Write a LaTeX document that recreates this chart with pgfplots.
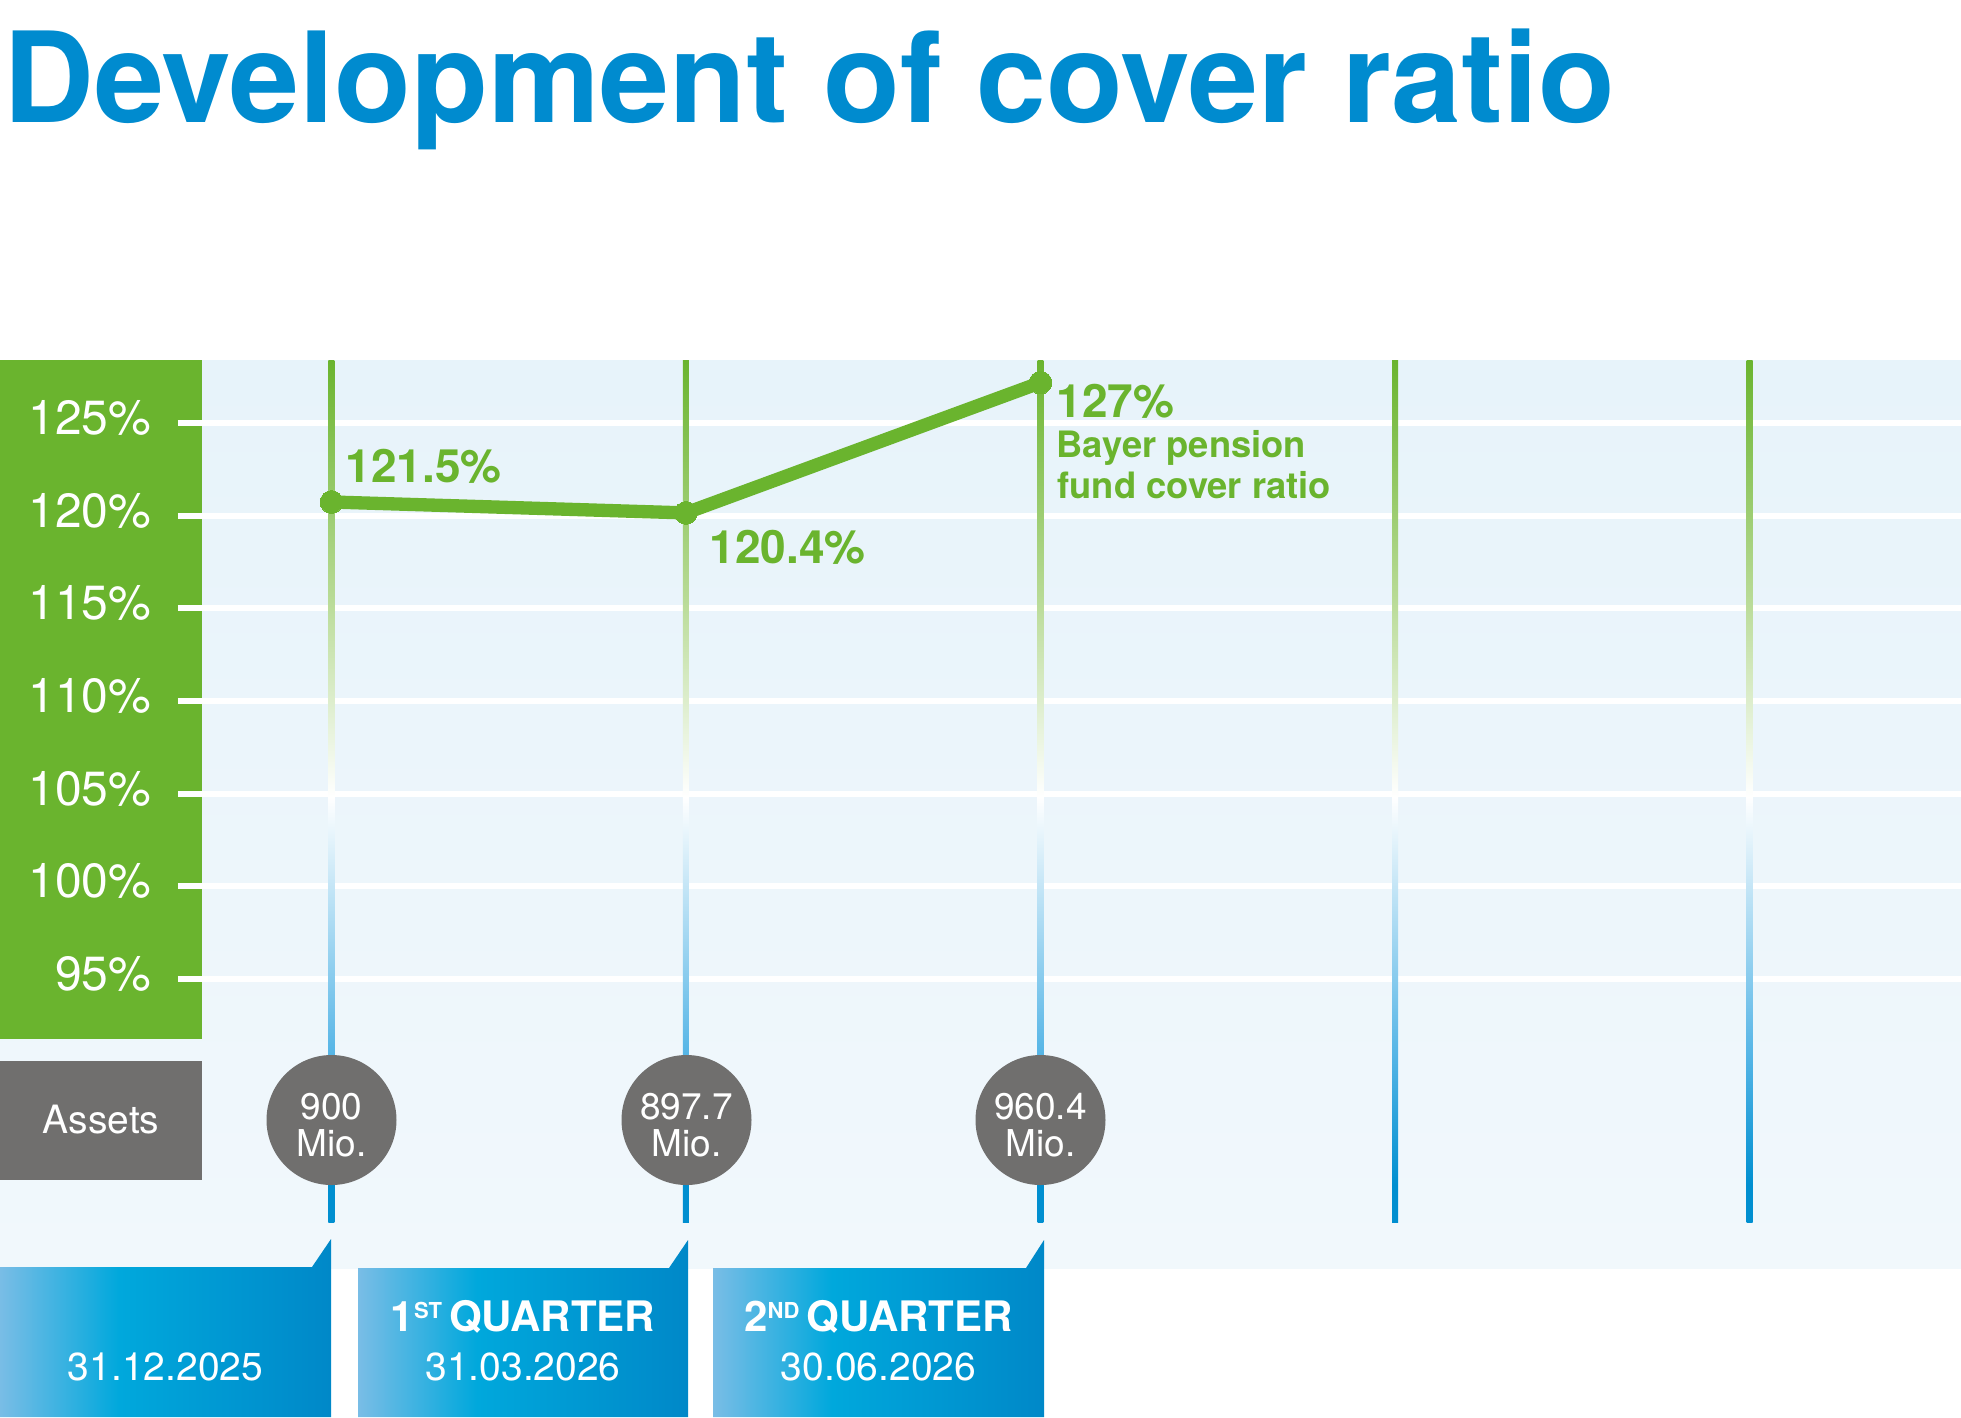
\documentclass[border=0pt]{standalone}
\usepackage{pgfplots}
\pgfplotsset{compat=1.18}
\usepackage{fontspec}
\setmainfont{TeX Gyre Heros}
\definecolor{bgreen}{HTML}{6AB42E}
\definecolor{tblue}{HTML}{008BCF}
\definecolor{bgray}{HTML}{706F6E}
\definecolor{bgtop}{HTML}{E7F3FA}
\definecolor{bgbot}{HTML}{F1F8FC}
\definecolor{lgreen}{HTML}{B9DB97}
\definecolor{lblue}{HTML}{55B5E6}
\definecolor{dblue}{HTML}{008FD0}
\definecolor{bxa}{HTML}{79BDE6}
\definecolor{bxb}{HTML}{00A8DC}
\definecolor{bxc}{HTML}{0088C8}
\pgfdeclareverticalshading{vline}{100bp}{color(0bp)=(dblue); color(25bp)=(dblue); color(27.15bp)=(dblue); color(34.7bp)=(lblue); color(49.65bp)=(white); color(61.1bp)=(lgreen); color(75bp)=(bgreen); color(100bp)=(bgreen)}
\pgfdeclarehorizontalshading{boxsh}{100bp}{color(0bp)=(bxa); color(25bp)=(bxa); color(43bp)=(bxb); color(75bp)=(bxc); color(100bp)=(bxc)}
\begin{document}
\begin{tikzpicture}[x=0.3pt,y=0.3pt]
\path[use as bounding box] (0,0) rectangle (1961,-1417);
% background
\shade[top color=bgtop, bottom color=bgbot] (0,-360) rectangle (1961,-1268);
\fill[bgreen] (0,-360) rectangle (202,-1039);
\fill[bgray] (0,-1061) rectangle (202,-1180);
\node[white, inner sep=0pt, font=\fontsize{11.7}{12}\selectfont] at (101,-1120) {Assets};
% title
\node[anchor=base west, inner sep=0pt, text=tblue, font=\fontsize{37.7}{37.7}\selectfont\bfseries] at (3,-122.5) {Development of cover ratio};
\begin{axis}[at={(60.6pt,-380.4pt)}, anchor=south west, width=527.7pt, height=272.4pt, scale only axis,
  xmin=-0.3653, xmax=4.5966, ymin=79.41, ymax=128.40,
  axis line style={draw=none}, xtick=\empty,
  ytick={95,100,105,110,115,120,125},
  yticklabels={95\%,100\%,105\%,110\%,115\%,120\%,125\%},
  ytick pos=left, tick align=outside, major tick length=7.2pt,
  tick style={white, line width=1.8pt},
  ymajorgrids, grid style={white, line width=1.8pt},
  yticklabel style={text=white, font=\fontsize{14.4}{14.4}\selectfont, inner sep=0pt, anchor=east, xshift=-7.8pt, yshift=1.5pt},
  clip=false]
\shade[shading=vline] (axis cs:-0.00846,81.89) rectangle (axis cs:0.00846,128.40);
\shade[shading=vline] (axis cs:0.99154,81.89) rectangle (axis cs:1.00846,128.40);
\shade[shading=vline] (axis cs:1.99154,81.89) rectangle (axis cs:2.00846,128.40);
\shade[shading=vline] (axis cs:2.99154,81.89) rectangle (axis cs:3.00846,128.40);
\shade[shading=vline] (axis cs:3.99154,81.89) rectangle (axis cs:4.00846,128.40);
\addplot[bgreen, line width=4pt, mark=*, mark size=3.4pt, mark options={fill=bgreen, draw=bgreen, line width=0pt}] coordinates {(0,120.74) (1,120.15) (2,127.18)};
\end{axis}
% data labels
\begin{scope}[font=\fontsize{13.8}{13.8}\selectfont\bfseries, text=bgreen]
\node[anchor=base west, inner sep=0pt] at (345,-482) {121.5\%};
\node[anchor=base west, inner sep=0pt] at (709,-563) {120.4\%};
\node[anchor=base west, inner sep=0pt] at (1056,-417) {127\%};
\end{scope}
\begin{scope}[font=\fontsize{10.9}{12.3}\selectfont\bfseries, text=bgreen]
\node[anchor=base west, inner sep=0pt] at (1056,-457) {Bayer pension};
\node[anchor=base west, inner sep=0pt] at (1057,-498) {fund cover ratio};
\end{scope}
% asset circles
\begin{scope}[font=\fontsize{11.1}{11.1}\selectfont]
\fill[bgray] (331.5,-1120) circle (65);
\node[anchor=base, white, inner sep=0pt] at (331.5,-1119) {900};
\node[anchor=base, white, inner sep=0pt] at (331.5,-1156) {Mio.};
\fill[bgray] (686.5,-1120) circle (65);
\node[anchor=base, white, inner sep=0pt] at (686.5,-1119) {897.7};
\node[anchor=base, white, inner sep=0pt] at (686.5,-1156) {Mio.};
\fill[bgray] (1040.5,-1120) circle (65);
\node[anchor=base, white, inner sep=0pt] at (1040.5,-1119) {960.4};
\node[anchor=base, white, inner sep=0pt] at (1040.5,-1156) {Mio.};
\end{scope}
% bottom boxes
\shade[shading=boxsh] (0,-1267) -- (312,-1267) -- (331,-1239) -- (331,-1417) -- (0,-1417) -- cycle;
\shade[shading=boxsh] (358,-1268) -- (669,-1268) -- (688,-1240) -- (688,-1417) -- (358,-1417) -- cycle;
\shade[shading=boxsh] (713,-1268) -- (1026,-1268) -- (1044,-1240) -- (1044,-1417) -- (713,-1417) -- cycle;
\begin{scope}[font=\fontsize{11.7}{11.7}\selectfont, text=white]
\node[anchor=base, inner sep=0pt] at (165.5,-1380) {31.12.2025};
\node[anchor=base, inner sep=0pt] at (523,-1380) {31.03.2026};
\node[anchor=base, inner sep=0pt] at (878.5,-1380) {30.06.2026};
\node[anchor=base, inner sep=0pt, font=\fontsize{12.6}{12.6}\selectfont\bfseries] at (523,-1331) {1\raisebox{3.8pt}{\fontsize{6.6}{6.6}\selectfont ST}\,QUARTER};
\node[anchor=base, inner sep=0pt, font=\fontsize{12.6}{12.6}\selectfont\bfseries] at (878.5,-1331) {2\raisebox{3.8pt}{\fontsize{6.6}{6.6}\selectfont ND}\,QUARTER};
\end{scope}
\end{tikzpicture}
\end{document}
